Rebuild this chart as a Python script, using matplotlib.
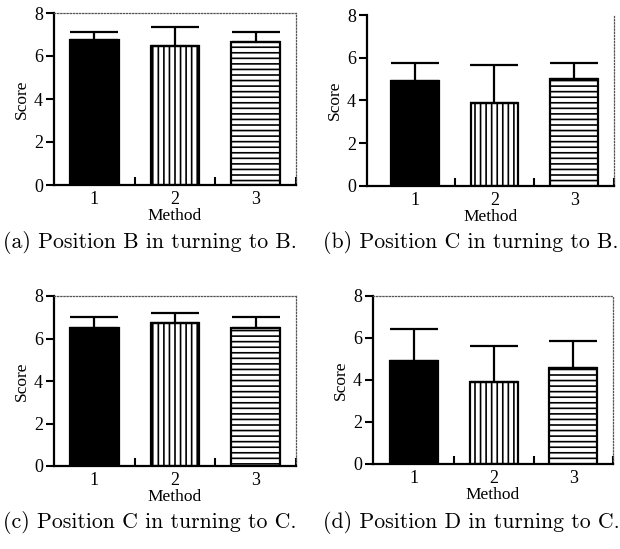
import matplotlib
matplotlib.use("Agg")
import matplotlib.pyplot as plt
import numpy as np

methods = [1, 2, 3]
method_labels = ["1", "2", "3"]

means_a = [6.75, 6.45, 6.65]
upper_a = [7.13, 7.33, 7.13]
means_b = [4.90, 3.90, 5.00]
upper_b = [5.77, 5.65, 5.77]
means_c = [6.50, 6.72, 6.50]
upper_c = [7.03, 7.22, 7.03]
means_d = [4.90, 3.90, 4.58]
upper_d = [6.42, 5.63, 5.87]

captions = ["(a) Position B in turning to B.",
            "(b) Position C in turning to B.",
            "(c) Position C in turning to C.",
            "(d) Position D in turning to C."]

hatches = [None, "|||", "---"]
facecolors = ["black", "white", "white"]

plt.rcParams["hatch.linewidth"] = 1.2

fig = plt.figure(figsize=(6.20, 5.49), dpi=100)

panels = [
    (means_a, upper_a, [54, 296, 13, 185], (0.5, 3.5), True),
    (means_b, upper_b, [367, 614, 15, 186], (0.4, 3.5), False),
    (means_c, upper_c, [54, 296, 296, 466], (0.5, 3.5), True),
    (means_d, upper_d, [373, 613, 296, 464], (0.48, 3.5), True),
]
cap_pos = [(150, 242), (471, 242), (150, 522), (471, 522)]

W, H = 620, 549

for (means, upper, (l, r, t, b), xl, top_dotted), cap, (cx, cy) in zip(panels, captions, cap_pos):
    ax = fig.add_axes([l / W, 1 - b / H, (r - l) / W, (b - t) / H])
    x = np.array(methods)
    ax.bar(x, means, width=0.6, color=facecolors, edgecolor="black",
           linewidth=1.6, hatch=hatches, zorder=2)
    err = np.array(upper) - np.array(means)
    ax.errorbar(x, means, yerr=[np.zeros(3), err], fmt="none", ecolor="black",
                elinewidth=1.6, capsize=17, capthick=1.6, zorder=3)
    ax.set_xlim(*xl)
    ax.set_ylim(0, 8)
    ax.set_yticks([0, 2, 4, 6, 8])
    ax.set_xticks(x)
    ax.set_xticklabels(method_labels)
    ax.set_xticks([1.5, 2.5, 3.5], minor=True)
    ax.tick_params(axis="x", which="major", length=0, pad=4)
    ax.tick_params(axis="x", which="minor", direction="in", length=6, width=1.5)
    ax.tick_params(axis="y", which="major", direction="out", length=6, width=1.5, pad=2)
    for lab in ax.get_xticklabels() + ax.get_yticklabels():
        lab.set_fontfamily("Liberation Serif")
        lab.set_fontsize(13)
    ax.set_xlabel("Method", fontdict=dict(family="Liberation Serif", size=12.5), labelpad=0)
    ax.set_ylabel("Score", fontdict=dict(family="Liberation Serif", size=12.5), labelpad=3)
    for s in ["left", "bottom"]:
        ax.spines[s].set_linewidth(1.6)
    for s in ["top", "right"]:
        ax.spines[s].set_linestyle((0, (1, 1.5)))
        ax.spines[s].set_linewidth(0.9)
        ax.spines[s].set_color("#555555")
    if not top_dotted:
        ax.spines["top"].set_visible(False)
    fig.text(cx / W, 1 - cy / H, cap, family="cmr10", fontsize=15.7,
             ha="center", va="center")

fig.savefig("out.png", dpi=100)
